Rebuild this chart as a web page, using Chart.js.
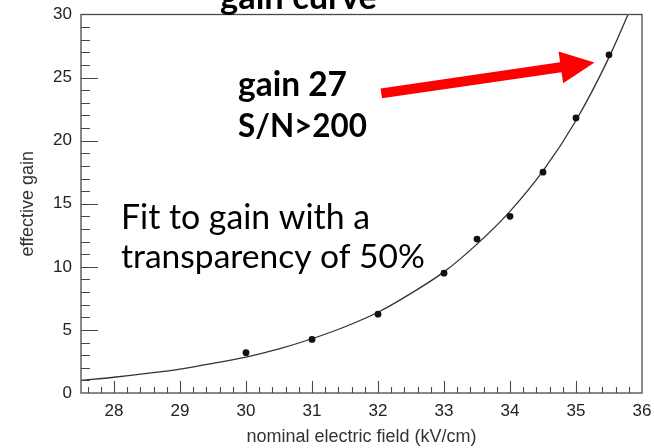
<!DOCTYPE html>
<html>
<head>
<meta charset="utf-8">
<script src="https://cdn.jsdelivr.net/npm/chart.js@4/dist/chart.umd.min.js"></script>
<style>
  html, body { margin: 0; padding: 0; background: #ffffff; }
  #wrap { width: 654px; height: 448px; position: relative; }
</style>
</head>
<body>
<div id="wrap"><canvas id="c" width="654" height="448"></canvas></div>
<script>
// Measured gain points
const fieldKVcm = [30, 31, 32, 33, 33.5, 34, 34.5, 35, 35.5];
const effectiveGain = [3.2, 4.25, 6.25, 9.5, 12.2, 14.0, 17.5, 21.8, 26.8];

// Fitted gain curve, sampled every 0.5 kV/cm
const fitField = [27.5, 28, 28.5, 29, 29.5, 30, 30.5, 31, 31.5, 32, 32.5, 33, 33.5, 34, 34.5, 35, 35.5, 36];
const fitGain = [1.0, 1.25, 1.55, 1.9, 2.35, 2.85, 3.5, 4.3, 5.25, 6.4, 7.9, 9.6, 11.8, 14.4, 17.6, 21.6, 26.6, 32.6];

// Axis tick labels
const xTickLabels = [28, 29, 30, 31, 32, 33, 34, 35, 36];
const yTickLabels = [0, 5, 10, 15, 20, 25, 30];

// Arrow from the note to the highest point (data coordinates)
const arrowTail = { x: 32.05, y: 23.75 };
const arrowTip = { x: 35.28, y: 26.2 };

const AXIS_FONT = 'Liberation Sans';
const NOTE_FONT = 'Lato';

// Frame with inward ROOT-style tick marks
const framePlugin = {
  id: 'frame',
  afterDatasetsDraw(chart) {
    const { ctx, chartArea: a, scales: { x, y } } = chart;
    ctx.save();
    ctx.strokeStyle = '#4a4a4a';
    ctx.lineWidth = 1.3;
    ctx.strokeRect(a.left, a.top, a.right - a.left, a.bottom - a.top);
    ctx.lineWidth = 1.1;
    ctx.beginPath();
    // y ticks: minor every 1, major every 5
    for (let v = 1; v < 30; v++) {
      const py = Math.round(y.getPixelForValue(v)) + 0.5;
      const len = v % 5 === 0 ? 17 : 9;
      ctx.moveTo(a.left, py);
      ctx.lineTo(a.left + len, py);
    }
    // x ticks: minor every 0.2, major every 1
    for (let k = 138; k < 180; k++) {
      const v = k / 5;
      const px = Math.round(x.getPixelForValue(v)) + 0.5;
      const len = k % 5 === 0 ? 12 : 6;
      ctx.moveTo(px, a.bottom);
      ctx.lineTo(px, a.bottom - len);
    }
    ctx.stroke();
    ctx.restore();
  }
};

function drawFitted(ctx, text, x, baseline, width, weight, family) {
  ctx.font = `${weight} 40px "${family}"`;
  const w = ctx.measureText(text).width;
  const size = 40 * width / w;
  ctx.font = `${weight} ${size.toFixed(2)}px "${family}"`;
  ctx.fillText(text, x, baseline);
}

// Slide annotations: title, notes and red arrow
const notesPlugin = {
  id: 'notes',
  afterDraw(chart) {
    const { ctx, scales: { x, y } } = chart;
    ctx.save();
    ctx.fillStyle = '#000000';
    ctx.textAlign = 'left';
    ctx.textBaseline = 'alphabetic';
    drawFitted(ctx, 'gain curve', 220, 8.5, 157, 'bold', NOTE_FONT);
    drawFitted(ctx, 'gain 27', 238, 96, 109, 'bold', NOTE_FONT);
    drawFitted(ctx, 'S/N>200', 238, 137, 129, 'bold', NOTE_FONT);
    drawFitted(ctx, 'Fit to gain with a', 121, 229, 249, 'normal', NOTE_FONT);
    drawFitted(ctx, 'transparency of 50%', 121, 268, 304, 'normal', NOTE_FONT);

    const x0 = x.getPixelForValue(arrowTail.x), y0 = y.getPixelForValue(arrowTail.y);
    const x1 = x.getPixelForValue(arrowTip.x), y1 = y.getPixelForValue(arrowTip.y);
    const ang = Math.atan2(y1 - y0, x1 - x0);
    const len = Math.hypot(x1 - x0, y1 - y0);
    const headLen = 34, headHalf = 16, shaftHalf = 5;
    ctx.translate(x0, y0);
    ctx.rotate(ang);
    ctx.fillStyle = '#ff0000';
    ctx.beginPath();
    ctx.moveTo(0, -shaftHalf);
    ctx.lineTo(len - headLen, -shaftHalf);
    ctx.lineTo(len - headLen, -headHalf);
    ctx.lineTo(len, 0);
    ctx.lineTo(len - headLen, headHalf);
    ctx.lineTo(len - headLen, shaftHalf);
    ctx.lineTo(0, shaftHalf);
    ctx.closePath();
    ctx.fill();
    ctx.restore();
  }
};

// Let the layout padding alone decide where the plot frame sits
function zeroScalePadding(s) {
  s.paddingTop = 0;
  s.paddingBottom = 0;
  s.paddingLeft = 0;
  s.paddingRight = 0;
}

new Chart(document.getElementById('c').getContext('2d'), {
  type: 'scatter',
  data: {
    datasets: [
      {
        label: 'fit',
        data: fitField.map((v, i) => ({ x: v, y: fitGain[i] })),
        showLine: true,
        borderColor: '#333333',
        borderWidth: 1.3,
        pointRadius: 0,
        cubicInterpolationMode: 'monotone',
        order: 2
      },
      {
        label: 'effective gain',
        data: fieldKVcm.map((v, i) => ({ x: v, y: effectiveGain[i] })),
        showLine: false,
        pointRadius: 3.4,
        pointBackgroundColor: '#111111',
        pointBorderWidth: 0,
        order: 1
      }
    ]
  },
  options: {
    responsive: false,
    animation: false,
    devicePixelRatio: 1,
    layout: { padding: { top: 14.5, right: 12, left: 0, bottom: 0 } },
    plugins: { legend: { display: false }, tooltip: { enabled: false } },
    scales: {
      x: {
        type: 'linear',
        min: 27.5,
        max: 36,
        afterBuildTicks: s => { s.ticks = xTickLabels.map(v => ({ value: v })); },
        afterFit: s => { s.height = 55; zeroScalePadding(s); },
        grid: { display: false, drawTicks: false },
        border: { display: false },
        ticks: { padding: 8, autoSkip: false, maxRotation: 0, color: '#222222', font: { family: AXIS_FONT, size: 17 } },
        title: {
          display: true,
          text: 'nominal electric field (kV/cm)',
          color: '#333333',
          font: { family: AXIS_FONT, size: 18 },
          padding: { top: 0, bottom: 0 }
        }
      },
      y: {
        type: 'linear',
        min: 0,
        max: 30,
        afterBuildTicks: s => { s.ticks = yTickLabels.map(v => ({ value: v })); },
        afterFit: s => { s.width = 81; zeroScalePadding(s); },
        grid: { display: false, drawTicks: false },
        border: { display: false },
        ticks: { padding: 9, autoSkip: false, color: '#222222', font: { family: AXIS_FONT, size: 17 } },
        title: {
          display: true,
          text: 'effective gain',
          color: '#333333',
          font: { family: AXIS_FONT, size: 18 },
          padding: { top: 17, bottom: 0 }
        }
      }
    }
  },
  plugins: [framePlugin, notesPlugin]
});
</script>
</body>
</html>
